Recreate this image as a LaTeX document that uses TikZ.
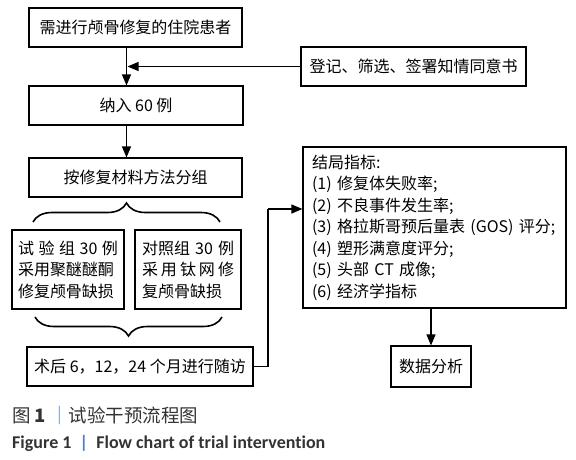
\documentclass[tikz,border=0pt]{standalone}
\usepackage{fontspec}
\setmainfont{Noto Sans CJK SC}
\newfontfamily\latfont[Ligatures=NoCommon]{Carlito}
\usetikzlibrary{arrows.meta,positioning,calc,decorations.pathreplacing}
\definecolor{capgray}{HTML}{333333}
\definecolor{capblue}{HTML}{4F81BD}

\begin{document}
\begin{tikzpicture}[x=1pt,y=-1pt,
  box/.style={draw, line width=1.1pt, inner sep=0pt, font=\fontsize{16}{21.5}\selectfont},
  flow/.style={-{Triangle[length=11pt,width=9pt]}, line width=1.1pt},
  link/.style={line width=1.1pt},
  curly/.style={decorate, decoration={brace, amplitude=19pt}, line width=1.6pt}]
\useasboundingbox (0,0) rectangle (576,459);
% Main column
\node[box, minimum width=213pt, minimum height=39pt] (patients) at (135.5,27.5) {需进行颅骨修复的住院患者};
\node[box, minimum width=225pt, minimum height=39pt] (consent) at (413.5,66.5) {登记、筛选、签署知情同意书};
\node[box, minimum width=214pt, minimum height=39pt] (enrol) at (136,105.5) {纳入 60 例};
\node[box, minimum width=213pt, minimum height=39pt] (grouping) at (135.5,177.5) {按修复材料方法分组};
% Two groups
\node[box, minimum width=112pt, minimum height=79pt, align=left] (trial) at (68,269.5)
  {\makebox[100pt][s]{试 验 组 30 例}\\\makebox[100pt][s]{采用聚醚醚酮}\\修复颅骨缺损};
\node[box, minimum width=106pt, minimum height=79pt, align=left] (control) at (188,269.5)
  {\makebox[92pt][s]{对照组 30 例}\\\makebox[92pt][s]{采 用 钛 网 修}\\复颅骨缺损};
\node[box, minimum width=226pt, minimum height=39pt] (followup) at (140,366.5) {术后 6，12，24 个月进行随访};
% Outcomes
\node[box, minimum width=263pt, minimum height=161pt, align=left, text width=245pt] (outcome) at (434.5,227.5)
  {结局指标:\\(1) 修复体失败率;\\(2) 不良事件发生率;\\(3) 格拉斯哥预后量表 (GOS) 评分;\\(4) 塑形满意度评分;\\(5) 头部 CT 成像;\\(6) 经济学指标};
\node[box, minimum width=80pt, minimum height=41pt] (analysis) at (431,366.5) {数据分析};
% Connectors
\coordinate (spine) at (126.5,0);
\coordinate (turn) at (268,209);
\draw[flow] (patients.south -| spine) -- (enrol.north -| spine);
\draw[flow] (consent.west) -- ($(spine |- consent.west)+(1pt,0)$);
\draw[flow] (enrol.south -| spine) -- (grouping.north -| spine);
\draw[link] (followup.east) -| (turn);
\draw[flow] (turn) -- (turn -| outcome.west);
\draw[flow] (analysis.north |- outcome.south) -- (analysis.north);
% Braces
\coordinate (b1a) at (33,222);
\coordinate (b1b) at (220,222);
\coordinate (b2a) at (222,317);
\coordinate (b2b) at (35,317);
\draw[curly] (b1a) -- (b1b);
\draw[curly] (b2a) -- (b2b);
% Caption
\node[anchor=west, inner sep=0pt, text=capgray, font=\fontsize{18.5}{22}\selectfont] (capzh) at (12,415)
  {图 \textbf{1} \textcolor{capblue}{｜}试验干预流程图};
\node[anchor=west, inner sep=0pt, text=capgray, font=\latfont\bfseries\fontsize{18}{21}\selectfont] (capen) at (12,443)
  {Figure 1 \ \textcolor{capblue}{|} \ Flow chart of trial intervention};
\end{tikzpicture}
\end{document}
